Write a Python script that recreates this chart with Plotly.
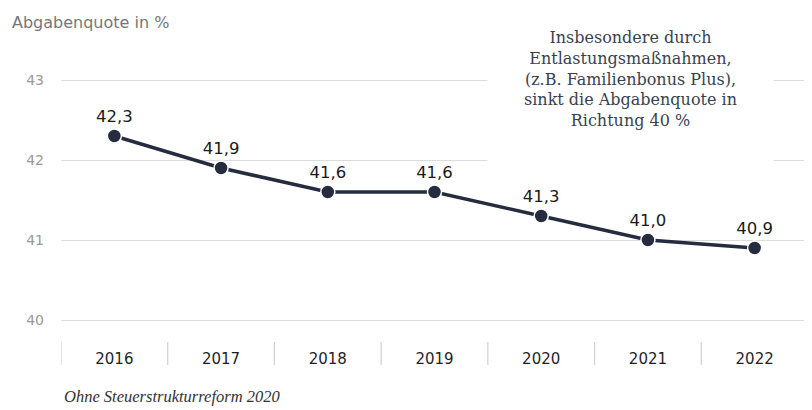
import plotly.graph_objects as go

years = ["2016", "2017", "2018", "2019", "2020", "2021", "2022"]
quote = [42.3, 41.9, 41.6, 41.6, 41.3, 41.0, 40.9]
labels = ["42,3", "41,9", "41,6", "41,6", "41,3", "41,0", "40,9"]
y_ticks = [40, 41, 42, 43]

OFFX, OFFY = 8, 8  # page body margin
W, H = 804, 402
L, T, B = 61 - OFFX, 64 - OFFY, 74
PW = 747
R = W - L - PW
PH = H - T - B


def py(ref_y):
    return (H - B - (ref_y - OFFY)) / PH


def px(ref_x):
    return (ref_x - OFFX - L) / PW


fig = go.Figure()
fig.add_trace(go.Scatter(
    x=list(range(len(years))), y=quote, mode="lines+markers+text",
    text=labels, textposition="top center",
    textfont=dict(family="DejaVu Sans", size=16.5, color="#1a1a1a"),
    line=dict(color="#262c3f", width=3.5),
    marker=dict(size=14, color="#262c3f", line=dict(color="white", width=1.5)),
    cliponaxis=False, hoverinfo="skip",
))

shapes = []
for i in range(len(years) + 1):
    shapes.append(dict(type="line", xref="x", yref="paper",
                       x0=i - 0.5, x1=i - 0.5, y0=py(342), y1=py(365),
                       line=dict(color="#d0d0d0", width=1.2)))

fig.update_layout(
    width=W, height=H, margin=dict(l=L, r=R, t=T, b=B, autoexpand=False),
    paper_bgcolor="white", plot_bgcolor="white", showlegend=False,
    xaxis=dict(range=[-0.5, len(years) - 0.5], tickmode="array",
               tickvals=list(range(len(years))), ticktext=years,
               showgrid=False, zeroline=False, showline=False, ticks="",
               tickfont=dict(family="DejaVu Sans", size=15, color="#1f1f1f"),
               ticklabelstandoff=12, automargin=False),
    yaxis=dict(range=[39.8, 43.2], tickvals=y_ticks, showgrid=True,
               gridcolor="#dcdcdc", gridwidth=1.2, zeroline=False, showline=False,
               ticks="", tickfont=dict(family="DejaVu Sans", size=14, color="#999999"),
               ticklabelstandoff=16, automargin=False),
    shapes=shapes,
    annotations=[
        dict(text="Abgabenquote in %", xref="paper", yref="paper",
             x=px(10), y=py(22), xanchor="left", yanchor="middle",
             showarrow=False,
             font=dict(family="DejaVu Sans", size=16, color="#777777")),
        dict(text="Insbesondere durch<br>Entlastungsmaßnahmen,<br>(z.B. Familienbonus Plus),<br>sinkt die Abgabenquote in<br>Richtung 40 %",
             xref="paper", yref="paper", x=px(630), y=py(79),
             xanchor="center", yanchor="middle", showarrow=False, align="center",
             bgcolor="white", borderpad=36,
             font=dict(family="DejaVu Serif", size=16, color="#3a3f4f")),
        dict(text="<i>Ohne Steuerstrukturreform 2020</i>", xref="paper", yref="paper",
             x=px(62), y=py(396), xanchor="left", yanchor="middle",
             showarrow=False,
             font=dict(family="Liberation Serif", size=16.5, color="#333333")),
    ],
)
fig.write_html("out.html")
